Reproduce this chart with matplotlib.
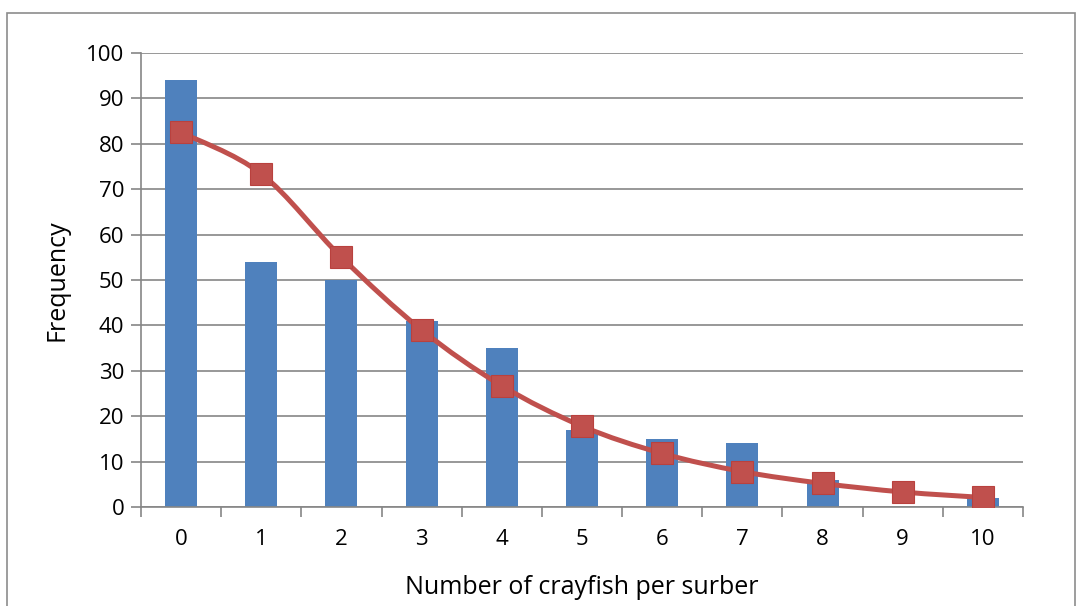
import numpy as np
import matplotlib.pyplot as plt
from matplotlib.path import Path
from matplotlib.patches import PathPatch, Rectangle

plt.rcParams['font.family'] = ['Open Sans', 'DejaVu Sans']

# data
counts = [0, 1, 2, 3, 4, 5, 6, 7, 8, 9, 10]
observed = [94, 54, 50, 41, 35, 17, 15, 14, 6, 0, 2]
expected = [82.5, 73.4, 55.0, 39.0, 26.7, 17.8, 11.8, 7.8, 5.2, 3.3, 2.1]
tick_labels = [str(c) for c in counts]

bar_color = '#4F81BD'
line_color = '#C0504D'
grid_color = '#868686'

fig = plt.figure(figsize=(10.8, 6.06), dpi=100)
# chart-area border like the spreadsheet export
fig.patches.append(Rectangle((7 / 1080, -0.05), 1068 / 1080, 1.05 - 13 / 606,
                             transform=fig.transFigure, fill=False,
                             edgecolor='#8c8c8c', lw=1.2))

ax = fig.add_axes([141 / 1080, 99 / 606, 882 / 1080, 454 / 606])
x = np.arange(len(counts))

ax.bar(x, observed, width=0.4, color=bar_color, zorder=2)

# smoothed line (Catmull-Rom turned into cubic bezier segments)
pts = np.column_stack([x, expected]).astype(float)
verts = [pts[0]]
codes = [Path.MOVETO]
for i in range(len(pts) - 1):
    p0 = pts[i - 1] if i > 0 else pts[i]
    p1, p2 = pts[i], pts[i + 1]
    p3 = pts[i + 2] if i + 2 < len(pts) else pts[i + 1]
    c1 = p1 + (p2 - p0) / 6.0
    c2 = p2 - (p3 - p1) / 6.0
    verts += [c1, c2, p2]
    codes += [Path.CURVE4] * 3
ax.add_patch(PathPatch(Path(verts, codes), fill=False, edgecolor=line_color,
                       lw=3.6, zorder=3, capstyle='round'))
ax.plot(x, expected, linestyle='none', marker='s', markersize=16,
        color=line_color, markeredgecolor='#b9413e', markeredgewidth=0.8, zorder=4)

ax.set_xlim(-0.5, len(counts) - 0.5)
ax.set_ylim(0, 100)
ax.set_yticks(np.arange(0, 101, 10))
ax.yaxis.grid(True, color=grid_color, lw=1.2, zorder=0)
ax.set_axisbelow(True)

# category labels centred, tick marks on the category edges
ax.set_xticks(x)
ax.set_xticklabels(tick_labels)
ax.set_xticks(np.arange(-0.5, len(counts), 1), minor=True)
ax.tick_params(axis='x', which='major', length=0, pad=16, labelsize=16)
ax.tick_params(axis='x', which='minor', length=7, width=1.2, color=grid_color)
ax.tick_params(axis='y', length=7, width=1.2, color=grid_color, labelsize=16, pad=5)

for s in ['top', 'right']:
    ax.spines[s].set_visible(False)
for s in ['left', 'bottom']:
    ax.spines[s].set_color(grid_color)
    ax.spines[s].set_linewidth(1.2)

ax.set_xlabel('Number of crayfish per surber', fontsize=18, labelpad=18)
ax.set_ylabel('Frequency', fontsize=18, labelpad=12)

fig.savefig('out.png', dpi=100)
